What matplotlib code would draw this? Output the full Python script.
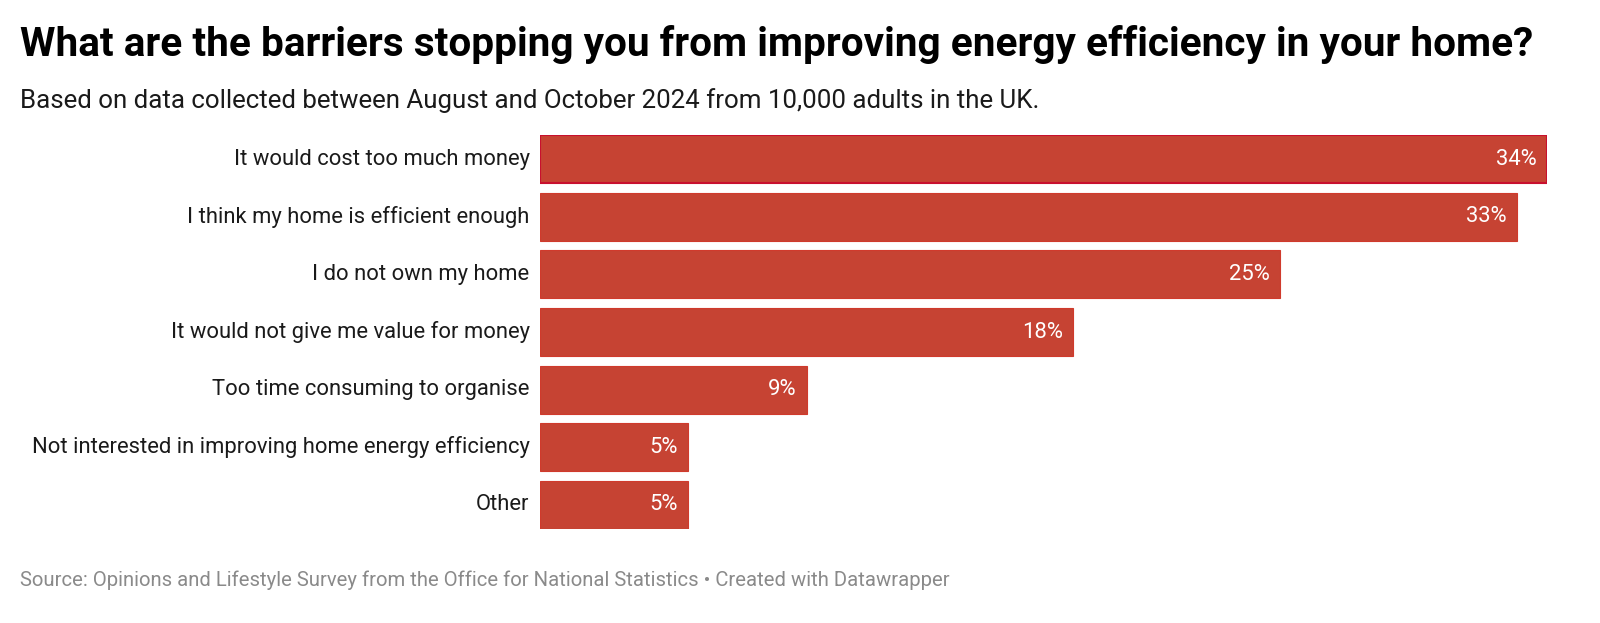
import matplotlib
matplotlib.use("Agg")
import matplotlib.pyplot as plt

categories = [
    "It would cost too much money",
    "I think my home is efficient enough",
    "I do not own my home",
    "It would not give me value for money",
    "Too time consuming to organise",
    "Not interested in improving home energy efficiency",
    "Other",
]
values = [34, 33, 25, 18, 9, 5, 5]
value_labels = ["34%", "33%", "25%", "18%", "9%", "5%", "5%"]

plt.rcParams['font.family'] = ['Roboto', 'DejaVu Sans']

W, H = 1600, 623
fig = plt.figure(figsize=(W / 100, H / 100), dpi=100)
fig.patch.set_facecolor("white")

h = 0.835
ax = fig.add_axes([540 / W, 1 - 529 / H, 1007 / W, 394 / H])
pos = list(range(len(categories)))
bars = ax.barh(pos, values, height=h, color="#c64333", edgecolor="#d03a2c", linewidth=0.8)
bars[0].set_edgecolor("#c8102e")
bars[0].set_linewidth(1.5)
ax.set_xlim(0, 34)
ax.set_ylim(len(categories) - 1 + h / 2, -h / 2)
ax.axis("off")

for p, v, lab in zip(pos, values, value_labels):
    ax.annotate(lab, xy=(v, p), xytext=(-7.5, 0), textcoords="offset points",
                ha="right", va="center", color="white", fontsize=15.8)
for p, c in zip(pos, categories):
    ax.annotate(c, xy=(0, p), xytext=(-7.5, 0), textcoords="offset points",
                ha="right", va="center", color="#1a1a1a", fontsize=15.8)

fig.text(20 / W, 1 - 45 / H, "What are the barriers stopping you from improving energy efficiency in your home?",
         fontsize=29.2, fontweight="bold", color="#000000", ha="left", va="center")
fig.text(20 / W, 1 - 101 / H, "Based on data collected between August and October 2024 from 10,000 adults in the UK.",
         fontsize=18.6, color="#1a1a1a", ha="left", va="center")
fig.text(20 / W, 1 - 580 / H, "Source: Opinions and Lifestyle Survey from the Office for National Statistics \u2022 Created with Datawrapper",
         fontsize=14.6, color="#8a8a8a", ha="left", va="center")

fig.savefig("out.png", dpi=100, facecolor="white")
